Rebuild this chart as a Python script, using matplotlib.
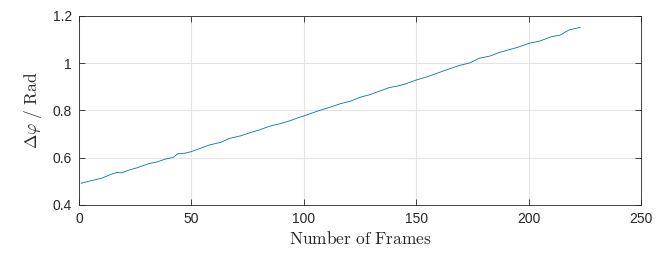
import numpy as np
import matplotlib
matplotlib.use('Agg')
import matplotlib.pyplot as plt

# valores (frame, fase)
frames = [1, 5, 10, 14, 17, 19, 22, 26, 31, 35, 38, 42, 44, 47, 50, 54, 58, 63,
          67, 72, 76, 80, 85, 89, 94, 98, 100, 106, 111, 116, 121, 125, 129,
          134, 138, 142, 145, 150, 155, 159, 165, 169, 174, 178, 183, 187, 192,
          196, 200, 205, 210, 214, 218, 223]
fase = [0.492, 0.502, 0.513, 0.529, 0.538, 0.536, 0.547, 0.558, 0.575, 0.583,
        0.593, 0.602, 0.617, 0.619, 0.626, 0.640, 0.654, 0.665, 0.682, 0.693,
        0.706, 0.717, 0.734, 0.743, 0.757, 0.771, 0.777, 0.797, 0.812, 0.828,
        0.840, 0.856, 0.866, 0.883, 0.897, 0.904, 0.912, 0.929, 0.943, 0.957,
        0.977, 0.990, 1.002, 1.021, 1.031, 1.046, 1.059, 1.070, 1.084, 1.094,
        1.112, 1.119, 1.141, 1.152]

xticks = [0, 50, 100, 150, 200, 250]
yticks = [0.4, 0.6, 0.8, 1.0, 1.2]
yticklabels = ['0.4', '0.6', '0.8', '1', '1.2']

plt.rcParams['font.family'] = ['Liberation Sans', 'DejaVu Sans']
plt.rcParams['mathtext.fontset'] = 'cm'

fig = plt.figure(figsize=(6.66, 2.61), dpi=100)
ax = fig.add_axes([0.1186, 0.2146, 0.8439, 0.7241])

ax.plot(frames, fase, color='#0072BD', linewidth=0.6)

ax.set_xlim(0, 250)
ax.set_ylim(0.4, 1.2)
ax.set_xticks(xticks)
ax.set_yticks(yticks)
ax.set_yticklabels(yticklabels)
ax.grid(True, color='#e3e3e3', linewidth=0.8)
ax.set_axisbelow(True)

ax.tick_params(direction='in', length=4, width=0.6, colors='#262626',
               labelsize=10, top=True, right=True, pad=5)
for s in ax.spines.values():
    s.set_color('#262626')
    s.set_linewidth(0.6)

ax.set_xlabel(r'$\mathrm{Number\ of\ Frames}$', fontsize=12.5, color='#262626', labelpad=3)
ax.set_ylabel(r'$\Delta\varphi\ /\ \mathrm{Rad}$', fontsize=12.5, color='#262626', labelpad=6)

fig.savefig('out.png', dpi=100)
